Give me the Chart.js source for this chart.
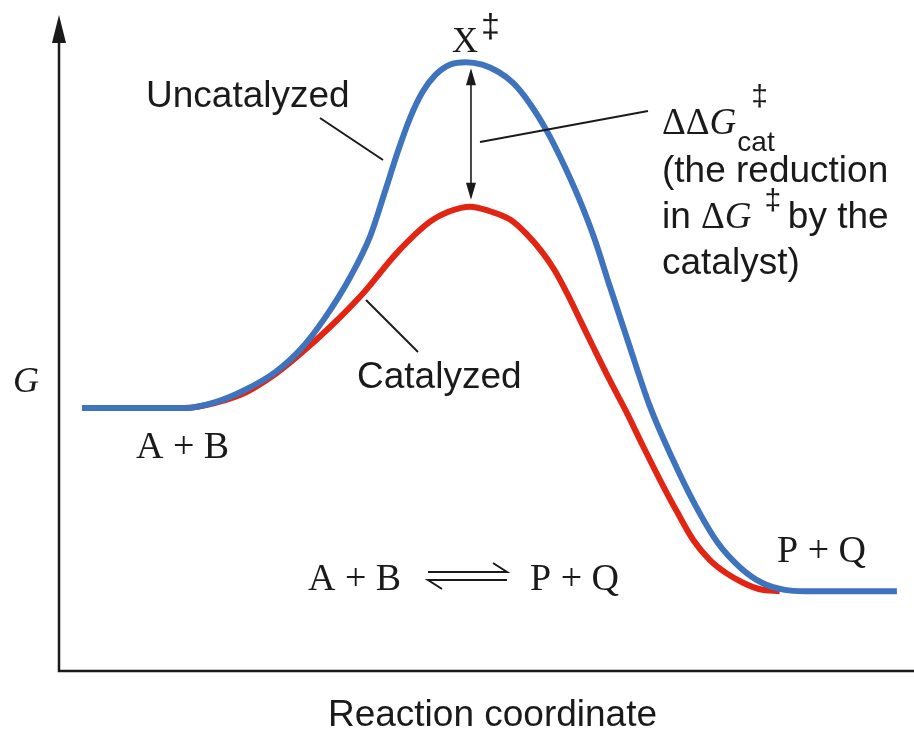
<!DOCTYPE html>
<html>
<head>
<meta charset="utf-8">
<script src="https://cdn.jsdelivr.net/npm/chart.js@4/dist/chart.umd.min.js"></script>
<style>
  body { margin: 0; background: #fff; }
  canvas { display: block; }
</style>
</head>
<body>
<canvas id="energyChart" width="914" height="731"></canvas>
<script>
// Free energy profile, x = reaction coordinate (0-100), y = G (0-100)
const uncatX = [2.7, 13.0, 14.7, 18.3, 21.8, 25.3, 28.2, 31.1, 34.0, 36.4, 38.1, 39.7, 41.1, 42.5, 44.0, 45.7, 47.6, 49.5, 51.4, 53.2, 55.1, 57.0, 58.8, 60.7, 62.6, 64.4, 66.6, 69.1, 71.7, 74.4, 77.0, 79.7, 82.2, 84.9, 87.3, 98.0];
const uncatG = [40.2, 40.2, 40.2, 41.1, 43.0, 45.7, 49.1, 54.0, 60.1, 66.5, 73.2, 79.7, 84.7, 88.5, 91.1, 92.7, 93.1, 92.7, 91.6, 89.8, 86.7, 82.7, 78.1, 72.6, 66.2, 58.9, 50.2, 40.5, 32.6, 25.4, 19.7, 15.8, 13.5, 12.4, 12.2, 12.2];

const catX = [2.7, 13.0, 14.7, 18.3, 22.0, 25.3, 27.8, 31.7, 35.6, 39.5, 43.4, 45.7, 48.1, 50.4, 52.8, 54.7, 56.6, 58.0, 59.4, 60.9, 62.5, 64.4, 66.4, 68.3, 70.3, 72.3, 74.2, 76.1, 78.0, 80.0, 82.0, 84.3];
const catG = [40.2, 40.2, 40.2, 41.0, 42.7, 45.4, 48.0, 52.6, 57.8, 63.9, 68.7, 70.3, 71.0, 70.3, 69.0, 66.8, 63.9, 61.2, 57.8, 53.8, 49.5, 44.5, 39.5, 34.4, 29.2, 24.3, 20.0, 17.0, 15.0, 13.5, 12.5, 12.2];

const BLUE = "rgb(62, 116, 190)";
const RED = "rgb(226, 36, 18)";
const INK = "#1a1a1a";
const SANS = "'Liberation Sans', Arial, sans-serif";
const SERIF = "'Liberation Serif', 'Times New Roman', serif";

const toPoints = (xs, ys) => xs.map((x, i) => ({ x: x, y: ys[i] }));

// draws the axes, labels and pointer lines round the curves
const diagramPlugin = {
  id: "diagram",
  beforeDatasetsDraw(chart) {
    const { ctx, chartArea } = chart;
    ctx.save();
    ctx.strokeStyle = INK;
    ctx.fillStyle = INK;
    ctx.lineWidth = 2.5;
    ctx.beginPath();
    ctx.moveTo(chartArea.left, chartArea.top + 20);
    ctx.lineTo(chartArea.left, chartArea.bottom);
    ctx.lineTo(chartArea.right, chartArea.bottom);
    ctx.stroke();
    // arrow head on G axis
    ctx.beginPath();
    ctx.moveTo(chartArea.left, chartArea.top - 2);
    ctx.lineTo(chartArea.left - 7, chartArea.top + 26);
    ctx.lineTo(chartArea.left + 7, chartArea.top + 26);
    ctx.closePath();
    ctx.fill();
    ctx.restore();
  },
  afterDatasetsDraw(chart) {
    const { ctx } = chart;
    const xs = chart.scales.x;
    const ys = chart.scales.y;
    ctx.save();
    ctx.fillStyle = INK;
    ctx.strokeStyle = INK;
    ctx.textBaseline = "alphabetic";
    ctx.textAlign = "left";

    const line = (x1, y1, x2, y2, w) => {
      ctx.lineWidth = w || 2;
      ctx.beginPath();
      ctx.moveTo(x1, y1);
      ctx.lineTo(x2, y2);
      ctx.stroke();
    };
    const text = (s, x, y, font) => {
      ctx.font = font;
      ctx.fillText(s, x, y);
      return x + ctx.measureText(s).width;
    };
    const sans = "37px " + SANS;
    const serif = "38px " + SERIF;

    // axis titles
    text("G", 13, 392, "italic 36px " + SERIF);
    ctx.textAlign = "center";
    text("Reaction coordinate", (xs.left + xs.right) / 2 + 6, 726, sans);
    ctx.textAlign = "left";

    // transition state
    text("X", 452, 52, "36px " + SERIF);
    text("\u2021", 481, 37, "34px " + SANS);

    // double arrow between the two maxima
    const peakU = Math.max(...uncatG);
    const peakC = Math.max(...catG);
    const ax = xs.getPixelForValue(uncatX[uncatG.indexOf(peakU)]) + 5;
    const yTop = ys.getPixelForValue(peakU) + 6;
    const yBot = ys.getPixelForValue(peakC) - 7;
    line(ax, yTop + 10, ax, yBot - 10, 1.6);
    ctx.beginPath();
    ctx.moveTo(ax, yTop);
    ctx.lineTo(ax - 5, yTop + 17);
    ctx.lineTo(ax + 5, yTop + 17);
    ctx.closePath();
    ctx.fill();
    ctx.beginPath();
    ctx.moveTo(ax, yBot);
    ctx.lineTo(ax - 5, yBot - 17);
    ctx.lineTo(ax + 5, yBot - 17);
    ctx.closePath();
    ctx.fill();

    // curve labels
    text("Uncatalyzed", 146, 107, sans);
    line(320, 118, 383, 160, 2);
    text("Catalyzed", 357, 388, sans);
    line(366, 300, 418, 352, 2);

    // delta delta G note
    line(648, 111, 480, 142, 1.8);
    let cx = text("\u0394\u0394", 662, 134, "37px " + SERIF);
    cx = text("G", cx, 134, "italic 37px " + SERIF);
    text("\u2021", cx + 15, 106, "30px " + SANS);
    text("cat", cx + 1, 151, "28px " + SANS);
    text("(the reduction", 662, 182, sans);
    cx = text("in ", 662, 228, sans);
    cx = text("\u0394", cx, 228, "37px " + SERIF);
    cx = text("G", cx, 228, "italic 37px " + SERIF);
    text("\u2021", cx + 13, 210, "30px " + SANS);
    text(" by the", cx + 26, 228, sans);
    text("catalyst)", 662, 274, sans);

    // states
    text("A + B", 136, 458, serif);
    text("P + Q", 777, 562, serif);

    // overall reaction
    text("A + B", 308, 590, serif);
    ctx.lineWidth = 2;
    ctx.beginPath();
    ctx.moveTo(428, 572); ctx.lineTo(507, 572); ctx.lineTo(493, 563);
    ctx.stroke();
    ctx.beginPath();
    ctx.moveTo(507, 580); ctx.lineTo(428, 580); ctx.lineTo(442, 589);
    ctx.stroke();
    text("P + Q", 530, 590, serif);

    ctx.restore();
  }
};

new Chart(document.getElementById("energyChart"), {
  type: "line",
  data: {
    datasets: [
      {
        label: "Uncatalyzed",
        data: toPoints(uncatX, uncatG),
        borderColor: BLUE,
        borderWidth: 6,
        order: 1,
      },
      {
        label: "Catalyzed",
        data: toPoints(catX, catG),
        borderColor: RED,
        borderWidth: 6,
        order: 2,
      },
    ],
  },
  options: {
    responsive: false,
    animation: false,
    devicePixelRatio: 1,
    cubicInterpolationMode: "monotone",
    pointRadius: 0,
    layout: {
      padding: { left: 59, right: 0, top: 17, bottom: 60 },
    },
    plugins: {
      legend: { display: false },
      tooltip: { enabled: false },
    },
    scales: {
      x: { type: "linear", min: 0, max: 100, display: false },
      y: { type: "linear", min: 0, max: 100, display: false },
    },
  },
  plugins: [diagramPlugin],
});
</script>
</body>
</html>
